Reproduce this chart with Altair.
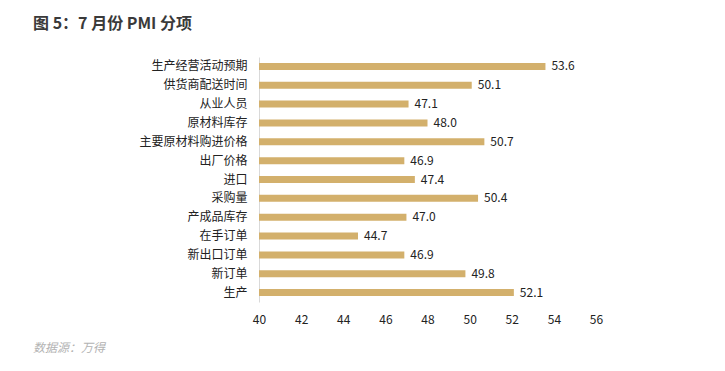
import altair as alt
import pandas as pd

categories = ["生产经营活动预期", "供货商配送时间", "从业人员", "原材料库存", "主要原材料购进价格",
              "出厂价格", "进口", "采购量", "产成品库存", "在手订单", "新出口订单", "新订单", "生产"]
values = [53.6, 50.1, 47.1, 48.0, 50.7, 46.9, 47.4, 50.4, 47.0, 44.7, 46.9, 49.8, 52.1]
x_ticks = [40, 42, 44, 46, 48, 50, 52, 54, 56]
source_note = ["数据源：万得"]

df = pd.DataFrame({"cat": categories, "val": values})
src_df = pd.DataFrame({"t": source_note})
FONT = "Noto Sans CJK SC"

y_enc = alt.Y("cat:N", sort=categories, title=None,
              scale=alt.Scale(paddingInner=0, paddingOuter=0),
              axis=alt.Axis(domainColor="#d9d9d9", ticks=False, labelPadding=12,
                            labelFontSize=12, labelColor="#222222", labelFont=FONT))
x_enc = alt.X("val:Q", title=None,
              scale=alt.Scale(domain=[40, 56], zero=False, nice=False),
              axis=alt.Axis(values=x_ticks, domain=False, ticks=False, grid=False,
                            labelFlush=False, labelPadding=12, labelFontSize=12,
                            labelColor="#222222", labelFont=FONT))

bars = alt.Chart(df).mark_bar(size=7, color="#D3B06C").encode(
    y=y_enc, x=x_enc, x2=alt.datum(40))
labels = alt.Chart(df).mark_text(align="left", dx=6, fontSize=12, color="#222222",
                                 font=FONT).encode(
    y=alt.Y("cat:N", sort=categories), x="val:Q", text=alt.Text("val:Q", format=".1f"))

source = alt.Chart(src_df).mark_text(align="left", baseline="middle", fontSize=12,
                                     fontStyle="italic", color="#b3b3b3",
                                     font=FONT).encode(
    x=alt.value(-226), y=alt.value(291), text="t:N")

chart = alt.layer(bars, labels, source).properties(
    width=337, height=245,
    background="white",
    title=alt.TitleParams("图 5：7 月份 PMI  分项", anchor="start", frame="group",
                          dx=-226, offset=25, fontSize=16, fontWeight=600,
                          color="#3a3a3a", font=FONT),
    autosize=alt.AutoSizeParams(type="none"),
    padding={"left": 251, "top": 49, "right": 100, "bottom": 55},
).configure_view(strokeWidth=0, stroke=None)

chart.save("out.html", embed_options={"renderer": "svg", "actions": False})
